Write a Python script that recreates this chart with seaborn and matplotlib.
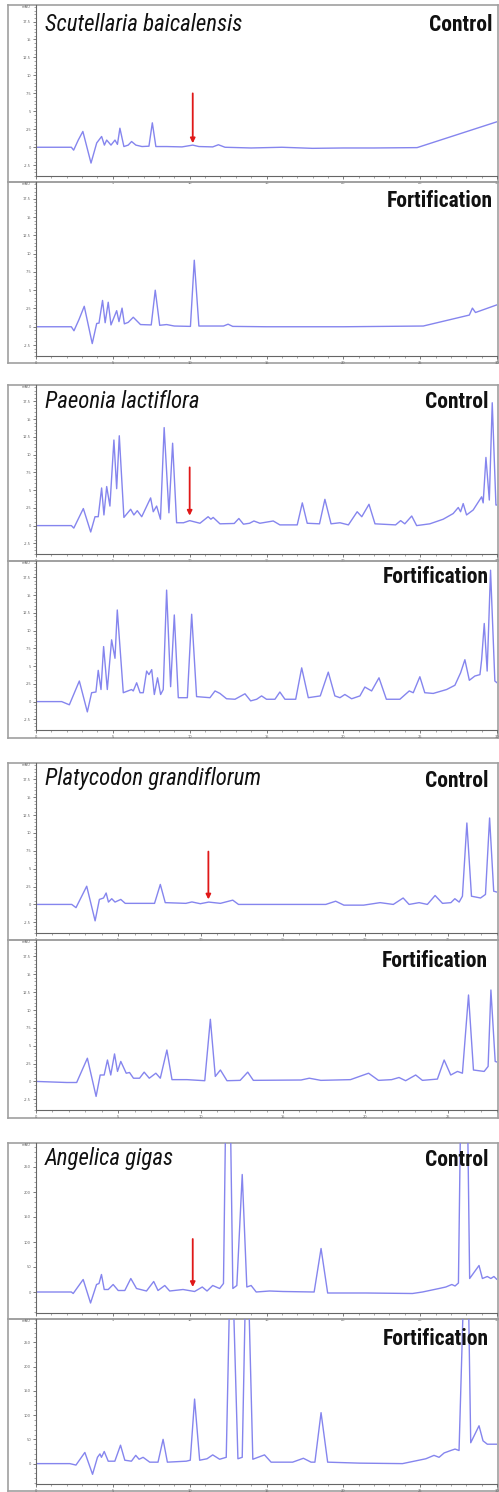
import matplotlib
matplotlib.use("Agg")
import matplotlib.pyplot as plt
from matplotlib import font_manager
from matplotlib.ticker import MultipleLocator
import seaborn as sns
import pandas as pd

# ---------------- data ----------------
species = ["Scutellaria baicalensis", "Paeonia lactiflora",
           "Platycodon grandiflorum", "Angelica gigas"]
conditions = ["Control", "Fortification"]

scut_ctrl = [(0, 0), (2.3, 0), (2.45, -0.4), (2.75, 1.0), (3.05, 2.2), (3.58, -2.2), (3.95, 0.6),
             (4.27, 1.5), (4.45, 0.3), (4.6, 1.0), (4.88, 0.3), (5.14, 1.0), (5.3, 0.4), (5.46, 2.65),
             (5.72, 0.1), (6.0, 0.3), (6.22, 0.8), (6.5, 0.3), (6.9, 0.1), (7.35, 0.15), (7.57, 3.4),
             (7.8, 0.1), (8.5, 0.1), (9.5, 0.05), (10.2, 0.3), (10.6, 0.1), (11.5, 0.05), (11.87, 0.35),
             (12.3, 0.0), (14, -0.1), (16, 0.0), (18, -0.15), (20, -0.1), (22, -0.1), (24.8, -0.05),
             (30, 3.55)]
scut_fort = [(0, 0), (2.3, 0), (2.47, -0.55), (2.8, 1.0), (3.14, 2.8), (3.66, -2.3), (3.95, 0.45),
             (4.1, 0.5), (4.33, 3.6), (4.5, 0.55), (4.7, 3.35), (4.88, 0.25), (5.25, 2.2), (5.4, 0.7),
             (5.6, 2.55), (5.75, 0.4), (6.0, 0.6), (6.33, 1.3), (6.8, 0.3), (7.5, 0.25), (7.76, 5.0),
             (8.05, 0.2), (8.5, 0.3), (9.0, 0.1), (10.05, 0.05), (10.3, 9.1), (10.6, 0.1), (11.5, 0.1),
             (12.2, 0.1), (12.5, 0.35), (12.8, 0.05), (15, 0.0), (20, 0.0), (25.2, 0.1), (28.2, 1.6),
             (28.4, 2.55), (28.6, 1.95), (30, 3.0)]
paeo_ctrl = [(0, 0), (2.3, 0), (2.46, -0.35), (3.08, 2.4), (3.56, -0.9), (3.84, 1.25), (4.05, 1.25),
             (4.27, 5.3), (4.42, 1.5), (4.6, 5.5), (4.81, 2.75), (5.07, 12.05), (5.25, 5.2), (5.42, 12.65),
             (5.72, 1.15), (6.16, 2.3), (6.37, 1.5), (6.59, 2.1), (6.88, 1.25), (7.24, 2.9), (7.46, 3.9),
             (7.63, 1.95), (7.85, 2.75), (8.1, 0.9), (8.34, 13.8), (8.65, 1.8), (8.89, 11.6), (9.15, 0.4),
             (9.6, 0.4), (10.0, 0.7), (10.67, 0.33), (11.2, 1.25), (11.38, 0.9), (11.53, 1.15),
             (11.97, 0.25), (12.9, 0.3), (13.2, 1.0), (13.5, 0.2), (13.9, 0.33), (14.18, 0.65),
             (14.57, 0.33), (15.44, 0.65), (15.87, 0.1), (17.0, 0.1), (17.33, 3.2), (17.65, 0.33),
             (18.45, 0.25), (18.8, 3.7), (19.2, 0.25), (19.78, 0.4), (20.33, 0.1), (20.9, 1.95),
             (21.2, 1.25), (21.67, 3.0), (22.06, 0.25), (23.4, 0.1), (23.73, 0.7), (24.0, 0.25),
             (24.45, 1.35), (24.77, 0.0), (25.63, 0.25), (26.5, 0.9), (27.15, 1.7), (27.48, 2.55),
             (27.63, 1.95), (27.8, 3.1), (28.02, 1.5), (28.45, 2.2), (29.0, 4.05), (29.1, 3.2),
             (29.28, 9.6), (29.5, 3.6), (29.69, 17.3), (29.93, 2.9), (30, 2.9)]
paeo_fort = [(0, 0), (1.67, 0), (2.17, -0.45), (2.82, 2.9), (3.34, -1.45), (3.62, 1.25), (3.9, 1.35),
             (4.05, 4.4), (4.23, 1.7), (4.4, 7.75), (4.64, 1.7), (4.92, 8.7), (5.14, 6.1), (5.29, 12.9),
             (5.68, 1.25), (6.22, 1.7), (6.33, 1.5), (6.55, 2.65), (6.77, 1.25), (6.98, 1.25), (7.2, 4.3),
             (7.35, 3.8), (7.53, 4.5), (7.7, 1.0), (7.91, 3.35), (8.11, 1.0), (8.28, 1.7), (8.5, 15.7),
             (8.76, 2.1), (9.0, 12.2), (9.26, 0.55), (9.85, 0.55), (10.13, 12.3), (10.45, 0.7),
             (11.32, 0.55), (11.65, 1.5), (11.97, 1.15), (12.4, 0.4), (12.95, 0.33), (13.6, 1.1),
             (13.97, 0.1), (14.36, 0.33), (14.68, 0.8), (15.0, 0.33), (15.55, 0.33), (15.87, 1.35),
             (16.2, 0.33), (16.9, 0.33), (17.29, 4.75), (17.72, 0.55), (18.5, 0.8), (19.02, 4.15),
             (19.45, 0.8), (19.78, 0.55), (20.1, 1.0), (20.54, 0.4), (21.08, 0.8), (21.4, 2.05),
             (21.84, 1.5), (22.32, 3.35), (22.8, 0.33), (23.68, 0.33), (24.29, 1.5), (24.55, 1.25),
             (24.98, 3.5), (25.3, 1.25), (25.85, 1.15), (26.72, 1.7), (27.26, 2.3), (27.63, 4.05),
             (27.91, 5.9), (28.2, 3.0), (28.56, 3.6), (28.89, 3.8), (29.0, 5.9), (29.17, 11.0),
             (29.36, 4.3), (29.58, 18.5), (29.86, 2.9), (30, 2.65)]
platy_ctrl = [(0, 0), (2.17, 0), (2.43, -0.45), (3.08, 2.55), (3.59, -2.3), (3.85, 0.7), (4.1, 0.9),
              (4.26, 1.6), (4.4, 0.33), (4.6, 0.8), (4.8, 0.33), (5.15, 0.7), (5.42, 0.15), (7.2, 0.15),
              (7.55, 2.8), (7.85, 0.25), (9.1, 0.15), (9.47, 0.35), (9.98, 0.1), (10.49, 0.33),
              (11.2, 0.15), (11.95, 0.6), (12.3, 0.0), (17.6, 0.0), (18.2, 0.45), (18.7, -0.1),
              (19.9, -0.1), (20.9, 0.25), (21.7, 0.0), (22.3, 0.9), (22.66, 0.0), (23.27, 0.25),
              (23.77, 0.0), (24.24, 1.25), (24.69, 0.15), (25.2, 0.25), (25.44, 0.8), (25.7, 0.33),
              (25.9, 1.15), (26.17, 11.4), (26.45, 1.15), (27.0, 0.9), (27.3, 1.4), (27.55, 12.1),
              (27.8, 1.85), (28.2, 1.6)]
platy_fort = [(0, 0), (1.87, -0.15), (2.47, -0.15), (3.12, 3.25), (3.65, -2.1), (3.9, 0.9), (4.14, 0.9),
              (4.34, 3.0), (4.54, 0.9), (4.77, 3.85), (4.95, 1.4), (5.15, 2.8), (5.48, 1.15), (5.68, 1.25),
              (5.92, 0.45), (6.29, 0.45), (6.57, 1.3), (6.88, 0.45), (7.28, 1.15), (7.55, 0.45),
              (7.95, 4.4), (8.26, 0.25), (9.17, 0.25), (10.25, 0.1), (10.59, 8.7), (10.89, 0.7),
              (11.2, 1.6), (11.6, 0.1), (12.4, 0.15), (12.86, 1.3), (13.2, 0.15), (16.1, 0.2),
              (16.6, 0.45), (17.3, 0.15), (19.1, 0.25), (20.2, 1.15), (20.8, 0.15), (21.6, 0.25),
              (22.05, 0.55), (22.45, 0.1), (23.06, 0.9), (23.47, 0.15), (24.38, 0.33), (24.79, 3.0),
              (25.19, 0.9), (25.6, 1.4), (25.9, 1.15), (26.27, 12.1), (26.57, 1.6), (27.22, 1.4),
              (27.46, 2.1), (27.63, 12.8), (27.89, 2.8), (28.2, 2.55)]
ange_ctrl = [(0, 0), (2.3, 0), (2.42, -3), (3.07, 25), (3.55, -22), (3.94, 15), (4.1, 17), (4.26, 35),
             (4.44, 5), (4.7, 5), (5.02, 15), (5.35, 3), (5.78, 3), (6.17, 27), (6.54, 7), (7.19, 2),
             (7.66, 21), (7.94, 3), (8.38, 13), (8.7, 2), (9.57, 5), (10.32, 1), (10.82, 10), (11.13, 2),
             (11.5, 13), (11.95, 7), (12.2, 17), (12.49, 700), (12.81, 7), (13.07, 13), (13.42, 235),
             (13.72, 10), (14.0, 13), (14.33, 0), (15.2, 2), (16.06, 1), (18.1, 0), (18.55, 87),
             (18.98, -2), (21.47, -2), (24.5, -3), (25.15, 0), (26.23, 7), (26.67, 10), (27.06, 15),
             (27.27, 12), (27.49, 18), (27.86, 900), (28.22, 27), (28.83, 53), (29.05, 27), (29.37, 31),
             (29.6, 27), (29.8, 31), (30, 25)]
ange_fort = [(0, 0), (2.2, 0), (2.6, -3), (3.18, 23), (3.68, -22), (4.0, 13), (4.16, 20), (4.26, 13),
             (4.44, 25), (4.7, 5), (5.13, 5), (5.5, 38), (5.78, 7), (6.21, 5), (6.49, 17), (6.71, 9),
             (6.97, 13), (7.4, 3), (7.94, 3), (8.27, 50), (8.55, 3), (9.78, 5), (10.04, 7), (10.32, 133),
             (10.65, 7), (11.13, 10), (11.5, 18), (11.95, 9), (12.38, 13), (12.7, 500), (13.14, 10),
             (13.42, 13), (13.72, 500), (14.11, 9), (14.87, 18), (15.3, 3), (16.7, 3), (17.4, 11),
             (17.9, 3), (18.15, 3), (18.55, 105), (18.98, 3), (21.04, 1), (23.85, 0), (25.37, 10),
             (25.9, 17), (26.23, 13), (26.56, 22), (26.99, 27), (27.27, 30), (27.53, 27), (28.03, 580),
             (28.29, 43), (28.83, 78), (29.09, 47), (29.37, 40), (30, 40)]

traces = [[scut_ctrl, scut_fort], [paeo_ctrl, paeo_fort],
          [platy_ctrl, platy_fort], [ange_ctrl, ange_fort]]

# red arrows marking the fortified compound (time, y_start, y_end) for each control run
arrow_time = [10.2, 10.0, 10.47, 10.2]
arrow_top = [7.5, 8.2, 7.4, 106]
arrow_tip = [0.56, 1.4, 0.7, 10]

x_end = [30, 30, 28, 30]
y_ranges = [(-4.0, 19.8), (-4.0, 19.8), (-4.0, 19.8), (-42, 298)]
y_major = [2.5, 2.5, 2.5, 50]
y_minor = [0.5, 0.5, 0.5, 10]

# ---------------- layout (pixels) ----------------
W, H = 499, 1492
panel_px = [[(5, 176, 182), (182, 356, 363)],
            [(385, 554, 561), (561, 730, 738)],
            [(763, 933, 940), (940, 1110, 1118)],
            [(1143, 1313, 1319), (1319, 1484, 1491)]]
species_base = [31, 408, 785, 1165]
label_base = [[31, 207], [408, 583], [787, 967], [1166, 1345]]
label_right = [493, 489, 488, 489]

sns.set_style("ticks")
avail = {f.name for f in font_manager.fontManager.ttflist}
narrow = None
for cand in ["Liberation Sans Narrow", "Roboto Condensed", "Open Sans Condensed", "DejaVu Sans Condensed"]:
    if cand in avail:
        narrow = cand
        break
if narrow:
    fam = [narrow, "DejaVu Sans"]
    sp_size, lab_size = 16.5, 15.5
else:
    fam = ["DejaVu Sans"]
    sp_size, lab_size = 13, 11.5
plt.rcParams["font.family"] = ["DejaVu Sans"]

line_color = "#8585ee"
frame_color = "#a0a0a0"
axis_color = "#666666"

fig = plt.figure(figsize=(W / 100, H / 100), dpi=100)
fig.patch.set_facecolor("white")


def fx(px):
    return px / W


def fy(py):
    return 1 - py / H


for g in range(4):
    for k in range(2):
        top, axy, bot = panel_px[g][k]
        # outer frame box
        box = fig.add_axes([fx(8), fy(bot), fx(498 - 8), (bot - top) / H])
        box.set_xticks([])
        box.set_yticks([])
        box.patch.set_alpha(0)
        for s in box.spines.values():
            s.set_color(frame_color)
            s.set_linewidth(1.2)
        # chromatogram axes
        ax = fig.add_axes([fx(36), fy(axy), fx(497 - 36), (axy - top) / H])
        ax.patch.set_alpha(0)
        df = pd.DataFrame(traces[g][k], columns=["time", "signal"])
        sns.lineplot(data=df, x="time", y="signal", ax=ax, color=line_color,
                     linewidth=1.0, estimator=None, sort=False)
        ax.set_xlim(0, x_end[g])
        ax.set_ylim(*y_ranges[g])
        ax.set_xlabel("")
        ax.set_ylabel("")
        ax.xaxis.set_major_locator(MultipleLocator(5))
        ax.xaxis.set_minor_locator(MultipleLocator(1))
        ax.yaxis.set_major_locator(MultipleLocator(y_major[g]))
        ax.yaxis.set_minor_locator(MultipleLocator(y_minor[g]))
        ax.tick_params(axis="both", which="major", labelsize=2.6, length=2.5, width=0.6,
                       colors=axis_color, pad=1)
        ax.tick_params(axis="both", which="minor", length=1.2, width=0.4, colors=axis_color)
        ax.yaxis.set_major_formatter(plt.FuncFormatter(lambda v, p: f"{v:g}"))
        ax.xaxis.set_major_formatter(plt.FuncFormatter(lambda v, p: f"{v:g}"))
        for side in ["top", "right"]:
            ax.spines[side].set_visible(False)
        for side in ["left", "bottom"]:
            ax.spines[side].set_color(axis_color)
            ax.spines[side].set_linewidth(0.8)
        ax.text(-0.012, 1.0, "mAU", transform=ax.transAxes, ha="right", va="top",
                fontsize=2.6, color=axis_color)
        if k == 0:
            ax.annotate("", xy=(arrow_time[g], arrow_tip[g]), xytext=(arrow_time[g], arrow_top[g]),
                        arrowprops=dict(arrowstyle="-|>", color="#e01818", lw=1.3,
                                        mutation_scale=7, shrinkA=0, shrinkB=0))
        fig.text(fx(label_right[g]), fy(label_base[g][k]), conditions[k], ha="right",
                 va="baseline", fontsize=lab_size, fontweight="bold", family=fam, color="#111111")
    fig.text(fx(45), fy(species_base[g]), species[g], ha="left", va="baseline",
             fontsize=sp_size, fontstyle="italic", family=fam, color="#111111")

fig.savefig("out.png", dpi=100, facecolor="white")
